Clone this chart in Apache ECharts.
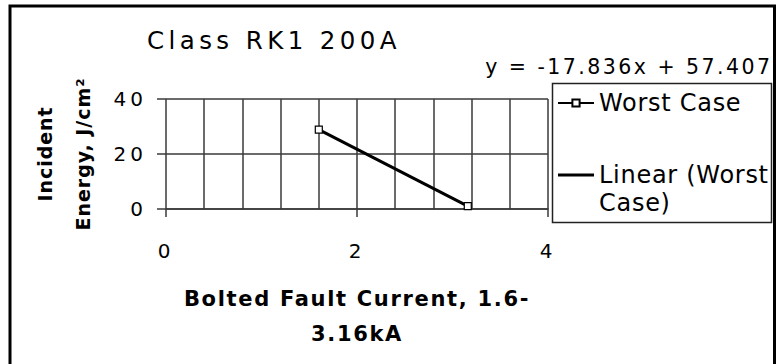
<!DOCTYPE html>
<html>
<head>
<meta charset="utf-8">
<title>Class RK1 200A</title>
<script src="https://cdn.jsdelivr.net/npm/echarts@6/dist/echarts.min.js"></script>
<style>
  html, body { margin: 0; padding: 0; background: #fff; }
  #chart { width: 776px; height: 364px; }
  /* wide, open letter setting per text role (keyed on font size) */
  #chart text[style*="24.5px"] { letter-spacing: 0.18em; }  /* title */
  #chart text[style*="20.5px"] { letter-spacing: 0.12em; }  /* trend equation */
  #chart text[style*="20px"]   { letter-spacing: 0.20em; }  /* tick labels */
  #chart text[style*="24px"]   { letter-spacing: 0.03em; }  /* legend */
  #chart text[style*="21px"]   { letter-spacing: 0.08em; }  /* x axis name */
  #chart text[style*="19px"]   { letter-spacing: 0.05em; }  /* y axis name */
</style>
</head>
<body>
<div id="chart"></div>
<script>
// Measured points: bolted fault current (kA) vs incident energy (J/cm²)
const currentKA = [1.6, 3.16];
const worstCase = [28.87, 1.05];

// Fitted trendline, as printed on the chart
const trendSlope = -17.836;
const trendIntercept = 57.407;
const trendLabel = 'y = -17.836x + 57.407';

const seriesNames = ['Worst Case', 'Linear (Worst Case)'];
const xTicks = [0, 2, 4];
const yTicks = [0, 20, 40];

const chartTitle = 'Class RK1 200A';
const xName = 'Bolted Fault Current, 1.6-\n3.16kA';
const yName = 'Incident\nEnergy, J/cm²';

const points = currentKA.map((x, i) => [x, worstCase[i]]);
const trend = currentKA.map(x => [x, +(trendSlope * x + trendIntercept).toFixed(3)]);

const FONT = 'DejaVu Sans';
const INK = '#000';
const GRID = '#3a3a3a';

const chart = echarts.init(document.getElementById('chart'), null, { renderer: 'svg' });

chart.setOption({
  backgroundColor: '#fff',
  animation: false,
  title: {
    text: chartTitle,
    left: 269,
    top: 23,
    textAlign: 'center',
    textStyle: { fontFamily: FONT, fontSize: 24.5, fontWeight: 'normal', color: INK }
  },
  graphic: [{
    // outer chart frame
    type: 'rect',
    shape: { x: 10, y: 6, width: 764.5, height: 420 },
    style: { fill: 'none', stroke: INK, lineWidth: 3 },
    silent: true
  }, {
    // legend frame
    type: 'rect',
    shape: { x: 552.5, y: 83.5, width: 219, height: 139 },
    style: { fill: '#fff', stroke: '#222', lineWidth: 1.5 },
    z: 1,
    silent: true
  }, {
    // trendline equation, right-aligned above the legend
    type: 'text',
    x: 772.5,
    y: 67,
    silent: true,
    style: {
      text: trendLabel,
      align: 'right',
      verticalAlign: 'middle',
      fontFamily: FONT,
      fontSize: 20.5,
      fill: INK
    }
  }],
  legend: {
    orient: 'vertical',
    left: 557,
    top: 89,
    itemWidth: 36,
    itemHeight: 9,
    itemGap: 16,
    padding: 0,
    z: 5,
    textStyle: { fontFamily: FONT, fontSize: 24, color: INK, lineHeight: 28 },
    data: [
      { name: seriesNames[0] },
      { name: seriesNames[1], icon: 'path://M0,0H36V3H0Z' }
    ],
    formatter: name => name === seriesNames[1] ? '\nLinear (Worst\nCase)' : name
  },
  grid: { left: 166, top: 99, width: 382, height: 110, containLabel: false },
  xAxis: {
    type: 'value',
    min: xTicks[0],
    max: xTicks[xTicks.length - 1],
    interval: xTicks[1] - xTicks[0],
    name: xName,
    nameLocation: 'middle',
    nameGap: 72,
    nameTextStyle: { fontFamily: FONT, fontSize: 21, fontWeight: 'bold', color: INK, lineHeight: 35 },
    axisLine: { show: true, onZero: false, lineStyle: { color: GRID, width: 1.5 } },
    axisTick: { show: true, length: 8, inside: false, lineStyle: { color: GRID, width: 1.5 } },
    axisLabel: { margin: 32, fontFamily: FONT, fontSize: 20, color: INK },
    splitLine: { show: true, lineStyle: { color: GRID, width: 1.5 } },
    minorTick: { show: false, splitNumber: 5 },
    minorSplitLine: { show: true, lineStyle: { color: GRID, width: 1.5 } }
  },
  yAxis: {
    type: 'value',
    min: yTicks[0],
    max: yTicks[yTicks.length - 1],
    interval: yTicks[1] - yTicks[0],
    name: yName,
    nameLocation: 'middle',
    nameRotate: 90,
    nameGap: 64,
    nameTextStyle: { fontFamily: FONT, fontSize: 19, fontWeight: 'bold', color: INK, lineHeight: 38 },
    axisLine: { show: false },
    axisTick: { show: true, length: 9, lineStyle: { color: GRID, width: 1.5 } },
    axisLabel: { margin: 19, fontFamily: FONT, fontSize: 20, color: INK },
    splitLine: { show: true, lineStyle: { color: GRID, width: 1.5 } }
  },
  series: [{
    name: seriesNames[1],
    type: 'line',
    data: trend,
    showSymbol: false,
    symbol: 'none',
    lineStyle: { color: INK, width: 3 },
    itemStyle: { color: INK },
    z: 2
  }, {
    name: seriesNames[0],
    type: 'line',
    data: points,
    symbol: 'rect',
    symbolSize: 7,
    showSymbol: true,
    lineStyle: { color: INK, width: 1.2 },
    itemStyle: { color: '#fff', borderColor: INK, borderWidth: 1.2 },
    z: 3
  }]
});
</script>
</body>
</html>
